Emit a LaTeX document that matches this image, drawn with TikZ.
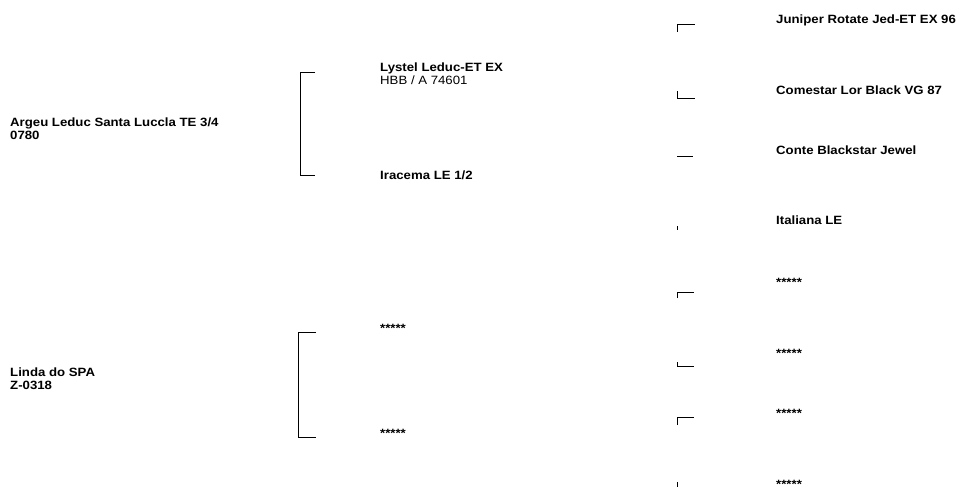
\documentclass[tikz,border=0pt]{standalone}
\usepackage{fontspec}
\setmainfont{Liberation Sans}[FakeStretch=1.1]
\usetikzlibrary{positioning}
\tikzset{
  horse/.style={anchor=west,inner sep=0pt,align=left,
    font=\fontsize{12}{13}\selectfont\bfseries},
  bracket/.style={draw=black,line width=0.9pt},
  stub/.style={draw=black,line width=0.9pt}
}

\begin{document}
\begin{tikzpicture}[x=1pt,y=-1pt]
  \useasboundingbox (0,0) rectangle (968,489);
  % parents
  \node[horse] (sire) at (10,129) {Argeu Leduc Santa Luccla TE 3/4\\0780};
  \node[horse] (dam) at (10,379) {Linda do SPA\\Z-0318};
  % grandparents
  \node[horse] (ss) at (380,74) {Lystel Leduc-ET EX\\\mdseries HBB / A 74601};
  \node[horse] (sd) at (380,175) {Iracema LE 1/2};
  \node[horse] (ds) at (380,328) {*****};
  \node[horse] (dd) at (380,433) {*****};
  % great-grandparents
  \node[horse] (sss) at (776,20) {Juniper Rotate Jed-ET EX 96};
  \node[horse] (ssd) at (776,90) {Comestar Lor Black VG 87};
  \node[horse] (sds) at (776,150) {Conte Blackstar Jewel};
  \node[horse] (sdd) at (776,220) {Italiana LE};
  \node[horse] (dss) at (776,282) {*****};
  \node[horse] (dsd) at (776,353) {*****};
  \node[horse] (dds) at (776,413) {*****};
  \node[horse] (ddd) at (776,484) {*****};
  % brackets
  \coordinate (s1) at (315,72); \coordinate (s2) at (315,175);
  \coordinate (d1) at (316,332); \coordinate (d2) at (316,437);
  \draw[bracket] (s1) -- ++(-15,0) |- (s2);
  \draw[bracket] (d1) -- ++(-18,0) |- (d2);
  % what is left of the outer brackets
  \coordinate (g1) at (677,24); \coordinate (g2) at (677,98);
  \coordinate (g3) at (677,156); \coordinate (g4) at (677,226);
  \coordinate (g5) at (677,292); \coordinate (g6) at (677,366);
  \coordinate (g7) at (677,417); \coordinate (g8) at (677,482);
  \draw[stub] (g1) ++(0,8) -- (g1) -- ++(18,0);
  \draw[stub] (g2) ++(0,-7) -- (g2) -- ++(18,0);
  \draw[stub] (g3) -- ++(16,0);
  \draw[stub] (g4) -- ++(0,4);
  \draw[stub] (g5) ++(0,6) -- (g5) -- ++(17,0);
  \draw[stub] (g6) ++(0,-4) -- (g6) -- ++(17,0);
  \draw[stub] (g7) ++(0,8) -- (g7) -- ++(17,0);
  \draw[stub] (g8) -- ++(0,5);
\end{tikzpicture}
\end{document}
